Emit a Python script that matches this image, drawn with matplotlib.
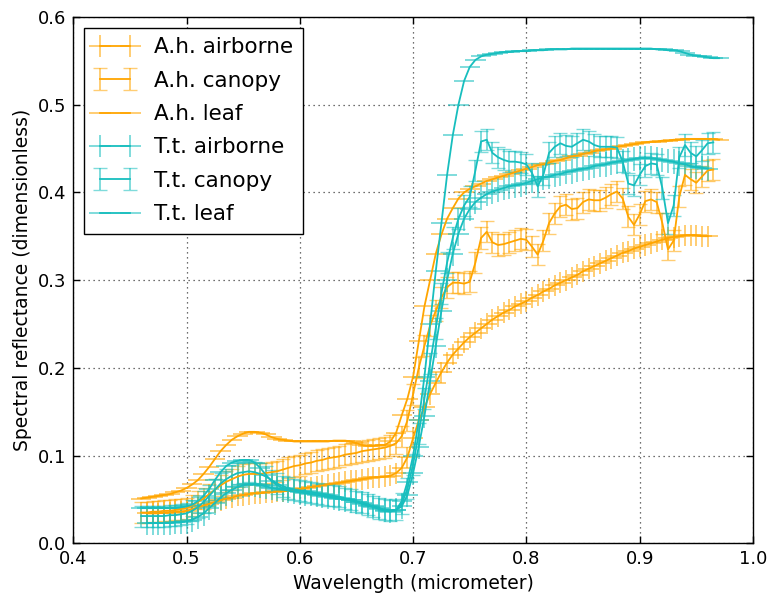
import numpy as np
import matplotlib
matplotlib.use('Agg')
import matplotlib.pyplot as plt

# wavelength grids (micrometer)
wl_leaf = np.round(np.arange(0.46, 0.9701, 0.005), 3)
wl_canopy = np.round(np.arange(0.46, 0.9651, 0.005), 3)
wl_air = np.round(np.arange(0.465, 0.9601, 0.005), 3)

# A.h. spectra
ah_airborne = [0.034, 0.034, 0.034, 0.035, 0.035, 0.036, 0.036, 0.037,
               0.039, 0.041, 0.043, 0.045, 0.047, 0.049, 0.051, 0.052, 0.054, 0.055,
               0.056, 0.057, 0.057, 0.058, 0.058, 0.059, 0.059, 0.060, 0.061, 0.062,
               0.063, 0.064, 0.065, 0.066, 0.067, 0.068, 0.069, 0.070, 0.071, 0.072,
               0.073, 0.074, 0.075, 0.075, 0.076, 0.077, 0.080, 0.086, 0.098, 0.120,
               0.140, 0.155, 0.170, 0.183, 0.195, 0.206, 0.215, 0.222, 0.229, 0.235,
               0.240, 0.245, 0.250, 0.255, 0.259, 0.263, 0.266, 0.270, 0.273, 0.276,
               0.280, 0.283, 0.287, 0.290, 0.294, 0.297, 0.300, 0.303, 0.306, 0.310,
               0.313, 0.316, 0.319, 0.322, 0.325, 0.328, 0.331, 0.333, 0.336, 0.338,
               0.340, 0.342, 0.344, 0.346, 0.348, 0.349, 0.350, 0.351, 0.351, 0.351,
               0.350, 0.350]
ah_canopy = [0.035, 0.035, 0.036, 0.036, 0.037, 0.037, 0.038, 0.039, 0.040,
             0.043, 0.047, 0.051, 0.056, 0.061, 0.066, 0.070, 0.073, 0.076, 0.078,
             0.079, 0.079, 0.079, 0.080, 0.081, 0.082, 0.084, 0.086, 0.088, 0.089,
             0.091, 0.092, 0.094, 0.095, 0.097, 0.098, 0.099, 0.101, 0.102, 0.103,
             0.105, 0.106, 0.107, 0.108, 0.109, 0.111, 0.114, 0.122, 0.140, 0.170,
             0.200, 0.225, 0.248, 0.265, 0.280, 0.292, 0.297, 0.297, 0.296, 0.298,
             0.320, 0.348, 0.355, 0.343, 0.340, 0.341, 0.343, 0.345, 0.347, 0.346,
             0.338, 0.329, 0.345, 0.365, 0.376, 0.384, 0.386, 0.381, 0.382, 0.389,
             0.392, 0.391, 0.391, 0.394, 0.398, 0.401, 0.393, 0.372, 0.363, 0.375,
             0.390, 0.392, 0.389, 0.365, 0.335, 0.345, 0.395, 0.420, 0.415, 0.411,
             0.418, 0.425, 0.426]
ah_leaf = [0.051, 0.052, 0.053, 0.054, 0.055, 0.056, 0.058, 0.060, 0.063,
           0.067, 0.072, 0.079, 0.087, 0.096, 0.105, 0.112, 0.118, 0.122, 0.125,
           0.127, 0.127, 0.126, 0.124, 0.121, 0.119, 0.118, 0.117, 0.116, 0.116,
           0.116, 0.116, 0.116, 0.116, 0.116, 0.117, 0.117, 0.117, 0.116, 0.114,
           0.112, 0.111, 0.111, 0.112, 0.112, 0.116, 0.126, 0.146, 0.165, 0.190,
           0.230, 0.270, 0.300, 0.330, 0.352, 0.370, 0.382, 0.393, 0.400, 0.404,
           0.407, 0.410, 0.413, 0.415, 0.417, 0.419, 0.421, 0.423, 0.425, 0.427,
           0.429, 0.431, 0.432, 0.434, 0.436, 0.437, 0.439, 0.441, 0.442, 0.444,
           0.445, 0.447, 0.448, 0.449, 0.450, 0.452, 0.453, 0.454, 0.455, 0.456,
           0.457, 0.458, 0.458, 0.459, 0.459, 0.460, 0.460, 0.461, 0.461, 0.461,
           0.461, 0.461, 0.461, 0.460]

# T.t. spectra
tt_airborne = [0.023, 0.023, 0.023, 0.023, 0.023, 0.024, 0.024, 0.025,
               0.027, 0.030, 0.034, 0.040, 0.046, 0.052, 0.057, 0.061, 0.064, 0.066,
               0.067, 0.067, 0.066, 0.065, 0.063, 0.062, 0.061, 0.060, 0.059, 0.058,
               0.057, 0.056, 0.055, 0.054, 0.053, 0.052, 0.051, 0.050, 0.049, 0.047,
               0.046, 0.044, 0.042, 0.040, 0.038, 0.037, 0.038, 0.042, 0.055, 0.080,
               0.110, 0.145, 0.185, 0.225, 0.265, 0.300, 0.330, 0.353, 0.370, 0.381,
               0.389, 0.394, 0.398, 0.401, 0.403, 0.405, 0.407, 0.408, 0.409, 0.411,
               0.413, 0.415, 0.417, 0.418, 0.420, 0.421, 0.423, 0.424, 0.426, 0.427,
               0.428, 0.430, 0.431, 0.432, 0.434, 0.435, 0.436, 0.437, 0.438, 0.439,
               0.439, 0.439, 0.438, 0.437, 0.436, 0.435, 0.433, 0.432, 0.430, 0.429,
               0.428, 0.427]
tt_canopy = [0.031, 0.031, 0.031, 0.031, 0.031, 0.032, 0.032, 0.033, 0.034,
             0.037, 0.041, 0.047, 0.054, 0.061, 0.068, 0.073, 0.077, 0.080, 0.081,
             0.082, 0.081, 0.079, 0.076, 0.072, 0.068, 0.065, 0.063, 0.061, 0.060,
             0.059, 0.058, 0.057, 0.056, 0.055, 0.054, 0.053, 0.051, 0.050, 0.048,
             0.046, 0.044, 0.042, 0.040, 0.038, 0.037, 0.038, 0.045, 0.062, 0.090,
             0.125, 0.165, 0.205, 0.245, 0.285, 0.320, 0.348, 0.370, 0.385, 0.395,
             0.425, 0.458, 0.460, 0.445, 0.440, 0.437, 0.435, 0.435, 0.434, 0.432,
             0.422, 0.407, 0.420, 0.445, 0.452, 0.456, 0.453, 0.452, 0.456, 0.460,
             0.458, 0.454, 0.452, 0.452, 0.452, 0.451, 0.435, 0.410, 0.408, 0.420,
             0.430, 0.433, 0.432, 0.405, 0.365, 0.385, 0.440, 0.454, 0.445, 0.441,
             0.448, 0.456, 0.457]
tt_leaf = [0.040, 0.040, 0.040, 0.040, 0.040, 0.040, 0.040, 0.041, 0.042,
           0.044, 0.048, 0.054, 0.062, 0.072, 0.081, 0.088, 0.092, 0.094, 0.095,
           0.095, 0.092, 0.086, 0.078, 0.071, 0.066, 0.063, 0.062, 0.061, 0.060,
           0.059, 0.058, 0.057, 0.056, 0.055, 0.053, 0.052, 0.050, 0.049, 0.047,
           0.045, 0.043, 0.041, 0.039, 0.037, 0.036, 0.038, 0.048, 0.070, 0.100,
           0.140, 0.190, 0.250, 0.310, 0.365, 0.420, 0.465, 0.500, 0.527, 0.543,
           0.551, 0.555, 0.557, 0.558, 0.559, 0.560, 0.560, 0.561, 0.561, 0.561,
           0.562, 0.562, 0.562, 0.563, 0.563, 0.563, 0.563, 0.564, 0.564, 0.564,
           0.564, 0.564, 0.564, 0.564, 0.564, 0.564, 0.564, 0.564, 0.564, 0.564,
           0.564, 0.564, 0.563, 0.563, 0.562, 0.562, 0.561, 0.559, 0.557, 0.556,
           0.555, 0.554, 0.553, 0.553]

# error sizes
band_half = 0.009
err_air_ah = 0.012
err_air_tt = 0.014
err_canopy = 0.012

orange = '#FFA500'
cyan = '#17BEBE'

fig = plt.figure(figsize=(7.68, 5.95), dpi=100)
ax = fig.add_axes([0.0954, 0.087, 0.885, 0.8845])


def draw(x, y, color, label, xerr=None, yerr=None, capsize=0, alpha=0.55):
    eb = ax.errorbar(x, y, xerr=xerr, yerr=yerr, color=color, ecolor=color,
                     lw=1.3, elinewidth=1.4, capsize=capsize, label=label)
    for c in eb[1]:
        c.set_alpha(alpha)
    for b in eb[2]:
        b.set_alpha(alpha)
    return eb


draw(wl_air, ah_airborne, orange, 'A.h. airborne', xerr=band_half, yerr=err_air_ah)
draw(wl_canopy, ah_canopy, orange, 'A.h. canopy', yerr=err_canopy, capsize=5)
draw(wl_leaf, ah_leaf, orange, 'A.h. leaf', xerr=band_half)
draw(wl_air, tt_airborne, cyan, 'T.t. airborne', xerr=band_half, yerr=err_air_tt)
draw(wl_canopy, tt_canopy, cyan, 'T.t. canopy', yerr=err_canopy, capsize=5)
draw(wl_leaf, tt_leaf, cyan, 'T.t. leaf', xerr=band_half)

ax.set_xlim(0.4, 1.0)
ax.set_ylim(0.0, 0.6)
ax.set_xticks(np.arange(0.4, 1.01, 0.1))
ax.set_yticks(np.arange(0.0, 0.61, 0.1))
ax.grid(True, color='0.25', linestyle=(0, (1, 3)), linewidth=0.9)
ax.set_axisbelow(True)
ax.tick_params(direction='in', top=True, right=True, length=5, width=1, labelsize=13, pad=5)
for s in ax.spines.values():
    s.set_linewidth(1.0)
ax.set_xlabel('Wavelength (micrometer)', fontsize=13.5)
ax.set_ylabel('Spectral reflectance (dimensionless)', fontsize=13.5)

leg = ax.legend(loc='upper left', numpoints=2, fontsize=15.5, fancybox=False,
                edgecolor='k', framealpha=1, handlelength=2, borderpad=0.45,
                labelspacing=0.62, handletextpad=0.8, borderaxespad=0.5)
leg.get_frame().set_linewidth(1.0)

fig.savefig('out.png', dpi=100)
